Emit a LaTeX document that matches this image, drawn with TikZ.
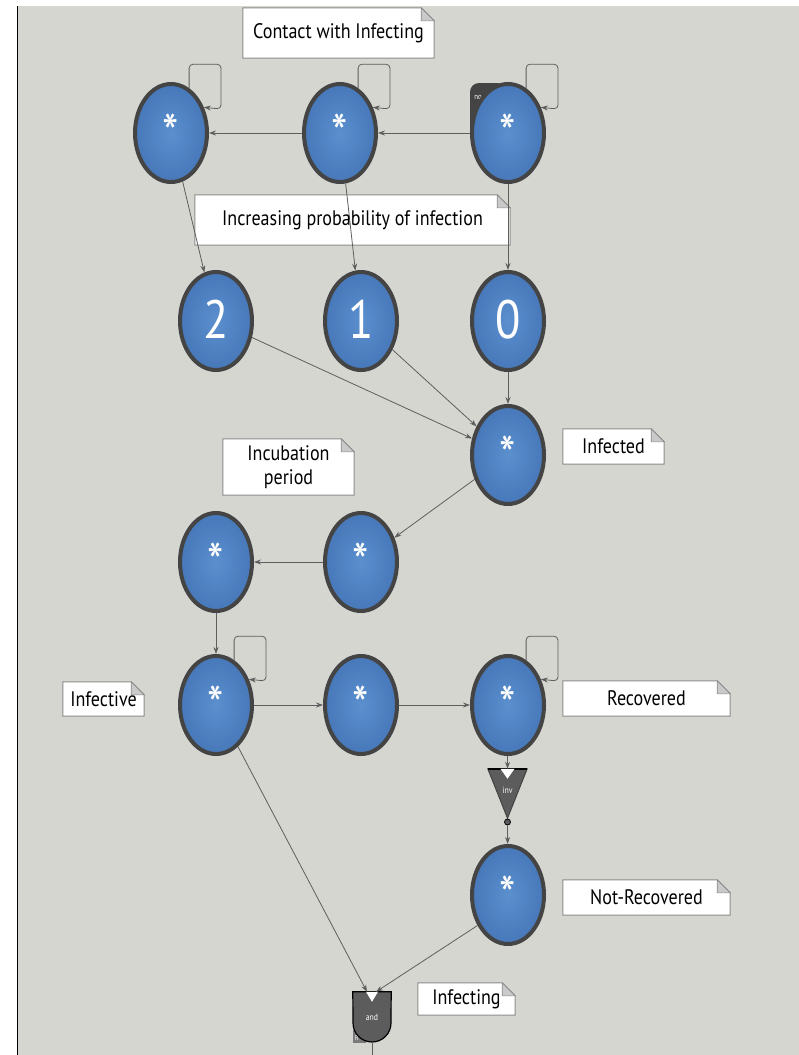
\documentclass[tikz,border=0pt]{standalone}
\usepackage{fontspec}
\setmainfont[FakeStretch=0.86]{PT Sans}
\usetikzlibrary{shapes.geometric,arrows.meta,calc}
\pgfdeclarelayer{back}
\pgfdeclarelayer{notes}
\pgfsetlayers{back,notes,main}

\definecolor{canvas}{HTML}{D6D6D0}
\definecolor{ringgray}{HTML}{444444}
\definecolor{blueIn}{HTML}{5B8FCE}
\definecolor{blueOut}{HTML}{4778B9}
\definecolor{edgegray}{HTML}{5E5E5E}
\definecolor{notegray}{HTML}{8C8C8C}
\definecolor{earfill}{HTML}{C9C9C9}
\definecolor{gatefill}{HTML}{5C5C5C}
\definecolor{tagfill}{HTML}{7A7A7A}

\tikzset{
  state/.style={ellipse, minimum width=72pt, minimum height=98pt, inner sep=0pt,
    draw=ringgray, line width=4pt, inner color=blueIn, outer color=blueOut,
    text=white, font=\fontsize{54}{54}\selectfont},
  digit/.style={state, font=\fontsize{54}{54}\selectfont},
  edge/.style={draw=edgegray, line width=0.8pt, -{Stealth[length=7pt,width=5pt]}},
  selfloop/.style={edge, rounded corners=4pt},
  note/.style={inner sep=0pt, font=\fontsize{21}{24}\selectfont, align=center},
  gatebox/.style={inner sep=0pt, draw=none},
}

% paper slip with a folded corner behind a note node
\newcommand\notepaper[1]{%
  \begin{pgfonlayer}{notes}
    \filldraw[fill=white, draw=notegray, line width=1pt]
      (#1.south west) -- (#1.north west) -- ($(#1.north east)+(-13,0)$)
      -- ($(#1.north east)+(0,13)$) -- (#1.south east) -- cycle;
    \filldraw[fill=earfill, draw=notegray, line width=0.6pt]
      ($(#1.north east)+(-13,0)$) -- ($(#1.north east)+(-13,13)$)
      -- ($(#1.north east)+(0,13)$) -- cycle;
  \end{pgfonlayer}}

% feedback arrow from the top of a state back into its right side
\newcommand\feedback[1]{%
  \draw[selfloop] (#1.68) -- ++(0,-24) -| ($(#1.center)+(50,-24)$) -- (#1.38);}

\begin{document}
\begin{tikzpicture}[x=1pt,y=-1pt]
\useasboundingbox (0,0) rectangle (799,1055);
\begin{pgfonlayer}{back}
  \fill[white] (0,0) rectangle (799,1055);
  \fill[canvas] (18,6) rectangle (799,1055);
  \draw[black, line width=1.6pt] (17.5,6) -- (17.5,1055);
\end{pgfonlayer}

% ---- contact counters
\fill[ringgray, rounded corners=9pt] (470,83) rectangle (506,140);
\node[font=\fontsize{8}{8}\selectfont, text=white] (notag) at (478,97) {no};
\node[state] (c3) at (508,133) {*};
\node[state] (c2) at (340,133) {*};
\node[state] (c1) at (171,133) {*};

% ---- probability levels
\node[digit] (p2) at (216,321) {\raisebox{4pt}{2}};
\node[digit] (p1) at (361,321) {\raisebox{4pt}{1}};
\node[digit] (p0) at (508,321) {\raisebox{4pt}{0}};

% ---- infection chain
\node[state] (infd) at (508,455) {*};
\node[state] (ic2) at (361,562) {*};
\node[state] (ic1) at (216,562) {*};
\node[state] (infv) at (216,705) {*};
\node[state] (mid) at (361,705) {*};
\node[state] (recv) at (508,705) {*};
\node[state] (nrec) at (508,895) {*};

% ---- inverter
\node[gatebox, minimum width=39pt, minimum height=49pt] (inv) at (507.5,793.5) {};
\filldraw[fill=gatefill, draw=ringgray, line width=1pt]
  (inv.north west) -- (inv.north east) -- (inv.south) -- cycle;
\draw[black, line width=1.4pt] (inv.north west) -- (inv.north east);
\fill[white] ($(inv.north)+(-7,0)$) -- ($(inv.north)+(7,0)$) -- ($(inv.north)+(0,10)$) -- cycle;
\node[text=white, font=\fontsize{9}{9}\selectfont] (invtxt) at (507.5,790) {inv};
\node[circle, inner sep=0pt, minimum size=6pt, fill=gatefill, draw=black, line width=0.8pt] (invdot) at (507.5,822) {};

% ---- and gate
\node[gatebox, minimum width=38pt, minimum height=50pt] (and) at (372,1017) {};
\filldraw[fill=tagfill, draw=none] (353,1030) rectangle (366,1043);
\node[text=white, font=\fontsize{7}{7}\selectfont] (rtag) at (357,1038) {R};
\filldraw[fill=gatefill, draw=black, line width=1.2pt]
  (and.north west) -- (and.north east) -- (391,1023) arc[start angle=0, end angle=-180, radius=19pt] -- cycle;
\fill[white] ($(and.north)+(-6,0)$) -- ($(and.north)+(6,0)$) -- ($(and.north)+(0,10)$) -- cycle;
\node[text=white, font=\fontsize{9}{9}\selectfont] (andtxt) at (372,1017) {and};
\coordinate (out) at (372,1055);

% ---- connectors
\draw[edge] (c3) -- (c2);
\draw[edge] (c2) -- (c1);
\draw[edge] (c1) -- (p2);
\draw[edge] (c2) -- (p1);
\draw[edge] (c3) -- (p0);
\draw[edge] (p2) -- (infd);
\draw[edge] (p1) -- (infd);
\draw[edge] (p0) -- (infd);
\draw[edge] (infd) -- (ic2);
\draw[edge] (ic2) -- (ic1);
\draw[edge] (ic1) -- (infv);
\draw[edge] (infv) -- (mid);
\draw[edge] (mid) -- (recv);
\draw[edge] (recv) -- (inv.north);
\draw[edge] (invdot) -- (nrec);
\draw[edge] (infv) -- ([xshift=-5pt]and.north);
\draw[edge] (nrec.225) -- ([xshift=4pt]and.north);
\draw[draw=edgegray, line width=0.8pt] (and.south) -- (out);

\feedback{c1}
\feedback{c2}
\feedback{c3}
\feedback{infv}
\feedback{recv}

% ---- notes
\node[note, minimum width=191pt, minimum height=50pt] (nCwi) at (338.5,33) {Contact with Infecting};
\node[note, minimum width=315pt, minimum height=50pt] (nIpi) at (352.5,220) {Increasing probability of infection};
\node[note, minimum width=101pt, minimum height=35pt] (nInfd) at (613.5,446.5) {Infected};
\node[note, minimum width=131pt, minimum height=56pt] (nIncb) at (288.5,467) {Incubation\\period};
\node[note, minimum width=81pt, minimum height=34pt] (nInfv) at (103.5,699) {Infective};
\node[note, minimum width=167pt, minimum height=35pt] (nRecv) at (646.5,698.5) {Recovered};
\node[note, minimum width=167pt, minimum height=35pt] (nNrec) at (646.5,897.5) {Not-Recovered};
\node[note, minimum width=97pt, minimum height=32pt] (nInfg) at (466.5,999) {Infecting};
\notepaper{nCwi}
\notepaper{nIpi}
\notepaper{nInfd}
\notepaper{nIncb}
\notepaper{nInfv}
\notepaper{nRecv}
\notepaper{nNrec}
\notepaper{nInfg}
\end{tikzpicture}
\end{document}
